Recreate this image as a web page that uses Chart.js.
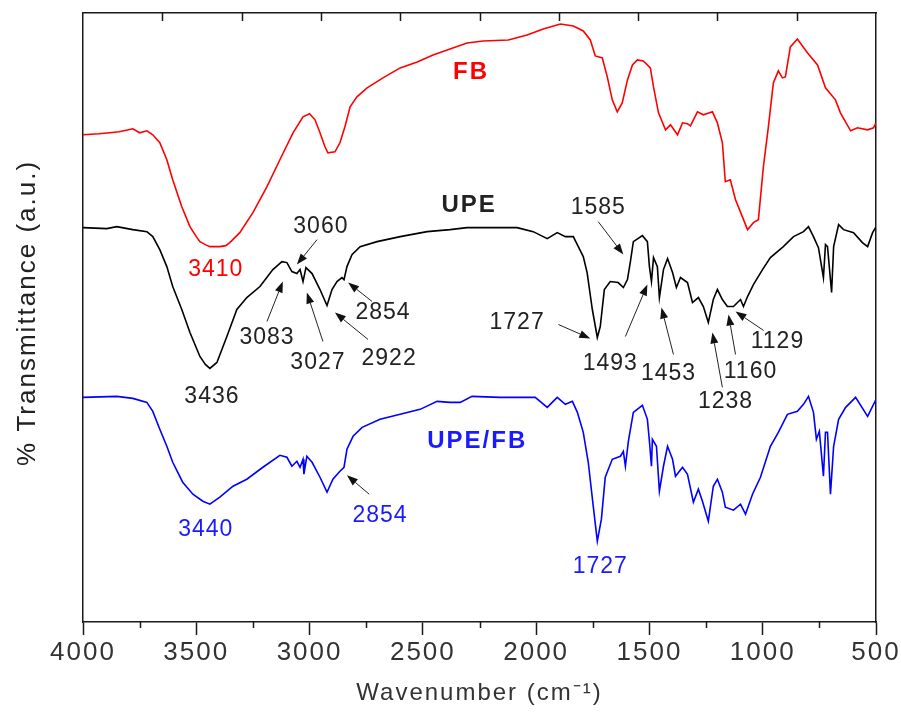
<!DOCTYPE html>
<html>
<head>
<meta charset="utf-8">
<script src="https://cdn.jsdelivr.net/npm/chart.js@4.4.1/dist/chart.umd.min.js"></script>
<style>
  html, body { margin: 0; padding: 0; background: #fff; }
  #wrap { width: 901px; height: 725px; }
</style>
</head>
<body>
<div id="wrap"><canvas id="c" width="901" height="725"></canvas></div>
<script>
// ---------------- data (wavenumber in cm-1, transmittance in a.u.) ----------------
const fbWn = [4000,3930,3882,3840,3780,3750,3718,3692,3661,3630,3604,3564,3528,3500,3484,3460,3440,3396,3370,3352,3308,3250,3188,3131,3073,3029,3000,2976,2954,2932,2919,2888,2866,2844,2821,2791,2746,2676,2600,2525,2455,2380,2305,2234,2123,2040,1969,1893,1836,1792,1761,1739,1708,1686,1664,1642,1620,1597,1575,1553,1527,1496,1482,1460,1429,1407,1376,1354,1332,1319,1288,1262,1222,1200,1178,1165,1143,1120,1090,1067,1041,1019,997,975,953,931,913,900,878,847,802,758,723,679,657,612,582,537,511,500];
const fbT  = [488,489,490,491,494,490,492,488,480,463,443,416,396,386,381,378,376,376,377,380,390,410,436,463,490,506,509,503,490,476,470,471,480,496,516,526,535,545,555,561,568,574,580,582,583,588,594,599,597,592,583,567,565,546,523,511,520,543,558,563,562,555,536,510,493,498,488,500,499,497,511,508,511,500,480,441,443,423,406,393,400,403,456,496,540,552,545,546,576,584,570,558,535,523,510,492,495,493,495,500];

const upeWn = [4000,3895,3851,3780,3718,3692,3661,3630,3604,3564,3528,3484,3460,3440,3409,3365,3321,3277,3219,3162,3122,3100,3078,3056,3042,3029,3016,2989,2954,2923,2901,2879,2857,2848,2835,2813,2777,2702,2600,2481,2380,2305,2084,2013,1951,1907,1871,1836,1814,1792,1775,1752,1730,1717,1699,1673,1638,1615,1597,1584,1571,1531,1509,1500,1491,1482,1465,1456,1438,1420,1398,1381,1363,1332,1310,1284,1262,1240,1218,1200,1178,1156,1129,1098,1085,1067,1041,1001,966,909,864,820,798,776,754,732,723,714,696,687,665,643,599,560,537,515,502];
const upeT  = [395,394,396,393,391,386,373,356,336,313,290,266,258,254,260,286,313,325,336,353,361,360,351,349,353,341,355,349,333,317,333,341,345,343,356,368,376,381,386,391,393,395,395,391,384,390,386,386,376,366,350,313,285,296,333,341,340,335,343,361,381,387,381,356,341,365,356,325,353,364,350,335,345,340,320,325,316,300,323,333,323,316,316,323,316,326,338,353,365,376,386,391,396,386,375,345,378,376,330,376,398,393,390,380,376,390,395];

const blendWn = [4000,3851,3780,3718,3692,3661,3630,3604,3560,3515,3471,3440,3396,3338,3277,3206,3131,3100,3078,3056,3042,3029,3025,3012,2989,2954,2923,2897,2866,2848,2835,2808,2768,2689,2600,2512,2437,2380,2335,2283,2159,2004,1951,1907,1871,1840,1818,1792,1770,1748,1730,1712,1695,1664,1628,1615,1606,1593,1571,1531,1509,1500,1491,1487,1469,1456,1438,1420,1398,1385,1354,1332,1306,1284,1266,1240,1218,1200,1178,1165,1129,1098,1076,1045,1010,966,931,891,847,820,798,776,763,750,732,723,714,701,687,665,634,590,537,502];
const blendT  = [225,226,224,220,211,193,176,160,140,128,121,118,125,136,143,155,167,165,156,161,155,163,148,166,160,145,130,143,151,155,173,186,195,203,208,213,221,220,220,226,225,225,215,225,218,221,210,190,160,116,81,103,145,163,166,171,156,181,210,217,203,181,156,183,176,131,156,176,163,146,155,148,120,133,121,101,136,143,130,115,112,118,108,128,145,176,190,208,211,218,226,210,183,191,146,190,190,128,176,203,215,225,206,222];

const seriesNames = ['FB', 'UPE', 'UPE/FB'];

// x-axis tick values (cm-1)
const xMajorTicks = [4000, 3500, 3000, 2500, 2000, 1500, 1000, 500];
const xMinorTicks = [3750, 3250, 2750, 2250, 1750, 1250, 750];
const topTicks = [1, 2, 3, 4, 5, 6, 7, 8, 9];

// peak annotations: text, series, label position (cm-1, a.u.)
const peakText   = ['3410','3436','3060','3083','3027','2922','2854','1585','1727','1493','1453','1238','1160','1129','3440','2854','1727'];
const peakSeries = ['FB','UPE','UPE','UPE','UPE','UPE','UPE','UPE','UPE','UPE','UPE','UPE','UPE','UPE','UPE/FB','UPE/FB','UPE/FB'];
const peakLabelWn = [3414,3431,2950,3188,2963,2649,2676,1726,2084,1673,1416,1164,1054,935,3458,2689,1717];
const peakLabelT  = [353,226,396,285,260,264,310,415,300,259,249,221,251,281,92,107,55];

// arrows: tail (cm-1, a.u.) -> head (cm-1, a.u.)
const arrowTailWn = [2967,3188,2941,2742,2724,1726,1902,1606,1394,1178,1120,996,2737];
const arrowTailT  = [383,301,281,283,321,401,298,286,268,235,268,292,128];
const arrowHeadWn = [3056,3118,3012,2888,2830,1615,1761,1509,1447,1222,1151,1120,2835];
const arrowHeadT  = [358,341,330,310,340,368,284,338,315,290,308,311,147];

// series name labels (cm-1, a.u.)
const nameWn = [2287, 2296, 2260];
const nameT  = [551, 417, 181];

// ---------------- styling ----------------
const seriesColor = { 'FB': '#ff0000', 'UPE': '#000000', 'UPE/FB': '#0000ff' };
const textColor = { 'FB': '#ff0000', 'UPE': '#222222', 'UPE/FB': '#1a1aff' };
const axisColor = '#1a1a1a';
const FONT = '"Liberation Sans", Arial, Helvetica, sans-serif';

function pts(wn, t) { return wn.map((w, i) => ({ x: w, y: t[i] })); }

const decor = {
  id: 'decor',
  beforeDraw(chart) { chart.ctx.letterSpacing = '2px'; },
  afterDraw(chart) {
    const ctx = chart.ctx;
    const xs = chart.scales.x, ys = chart.scales.y, xt = chart.scales.xTop;
    const a = chart.chartArea;
    ctx.save();
    // minor bottom ticks (outward) and top ticks (inward)
    ctx.strokeStyle = axisColor;
    ctx.lineWidth = 1.5;
    ctx.beginPath();
    xMinorTicks.forEach(v => {
      const px = Math.round(xs.getPixelForValue(v)) + 0.5;
      ctx.moveTo(px, a.bottom); ctx.lineTo(px, a.bottom + 6);
    });
    topTicks.forEach(v => {
      const px = Math.round(xt.getPixelForValue(v)) + 0.5;
      ctx.moveTo(px, a.top); ctx.lineTo(px, a.top + 8);
    });
    ctx.stroke();

    // arrows
    ctx.strokeStyle = '#222';
    ctx.fillStyle = '#111';
    ctx.lineWidth = 1;
    for (let i = 0; i < arrowTailWn.length; i++) {
      const x1 = xs.getPixelForValue(arrowTailWn[i]), y1 = ys.getPixelForValue(arrowTailT[i]);
      const x2 = xs.getPixelForValue(arrowHeadWn[i]), y2 = ys.getPixelForValue(arrowHeadT[i]);
      const ang = Math.atan2(y2 - y1, x2 - x1);
      const L = 11, W = 4;
      const bx = x2 - L * Math.cos(ang), by = y2 - L * Math.sin(ang);
      ctx.beginPath();
      ctx.moveTo(x1, y1); ctx.lineTo(bx, by);
      ctx.stroke();
      ctx.beginPath();
      ctx.moveTo(x2, y2);
      ctx.lineTo(bx + W * Math.sin(ang), by - W * Math.cos(ang));
      ctx.lineTo(bx - W * Math.sin(ang), by + W * Math.cos(ang));
      ctx.closePath();
      ctx.fill();
    }

    // peak labels
    ctx.textAlign = 'center';
    ctx.textBaseline = 'middle';
    ctx.letterSpacing = '1px';
    ctx.font = '23px ' + FONT;
    for (let i = 0; i < peakText.length; i++) {
      ctx.fillStyle = textColor[peakSeries[i]];
      ctx.fillText(peakText[i], xs.getPixelForValue(peakLabelWn[i]), ys.getPixelForValue(peakLabelT[i]));
    }
    // series names
    ctx.letterSpacing = '2px';
    ctx.font = 'bold 24px ' + FONT;
    for (let i = 0; i < seriesNames.length; i++) {
      ctx.fillStyle = textColor[seriesNames[i]];
      ctx.fillText(seriesNames[i], xs.getPixelForValue(nameWn[i]), ys.getPixelForValue(nameT[i]));
    }
    ctx.restore();
  }
};

new Chart(document.getElementById('c'), {
  type: 'line',
  data: {
    datasets: [
      { label: 'FB', data: pts(fbWn, fbT) },
      { label: 'UPE', data: pts(upeWn, upeT) },
      { label: 'UPE/FB', data: pts(blendWn, blendT) }
    ].map(d => Object.assign(d, {
      borderColor: seriesColor[d.label],
      backgroundColor: seriesColor[d.label],
      borderWidth: 1.6,
      pointRadius: 0,
      tension: 0,
      fill: false,
      xAxisID: 'x',
      yAxisID: 'y'
    }))
  },
  options: {
    responsive: false,
    animation: false,
    events: [],
    layout: { padding: { left: 0, right: 25, top: 13, bottom: 0 } },
    plugins: { legend: { display: false }, tooltip: { enabled: false } },
    scales: {
      x: {
        type: 'linear',
        position: 'bottom',
        reverse: true,
        min: 500, max: 4000,
        afterBuildTicks: (s) => { s.ticks = xMajorTicks.map(v => ({ value: v })); },
        ticks: {
          color: '#333',
          font: { family: FONT, size: 26 },
          padding: 2,
          maxRotation: 0,
          autoSkip: false,
          callback: (v) => String(v)
        },
        grid: { display: true, drawOnChartArea: false, drawTicks: true, tickLength: 13, tickWidth: 1.5, tickColor: axisColor },
        border: { display: true, color: axisColor, width: 1.5 },
        title: {
          display: true,
          text: 'Wavenumber (cm\u207B\u00B9)',
          color: '#333',
          font: { family: FONT, size: 24 },
          padding: { top: 8.4, bottom: 17.6 }
        }
      },
      xTop: {
        type: 'linear',
        position: 'top',
        min: 0, max: 10,
        ticks: { display: false },
        grid: { display: true, drawOnChartArea: false, drawTicks: false },
        border: { display: true, color: axisColor, width: 1.5 }
      },
      y: {
        type: 'linear',
        position: 'left',
        min: 0, max: 610,
        ticks: { display: false },
        grid: { display: true, drawOnChartArea: false, drawTicks: false },
        border: { display: true, color: axisColor, width: 1.5 },
        title: {
          display: true,
          text: ' % Transmittance (a.u.)',
          color: '#222',
          font: { family: FONT, size: 26 },
          padding: { top: 12.4, bottom: 39.4 }
        }
      },
      yRight: {
        type: 'linear',
        position: 'right',
        min: 0, max: 610,
        ticks: { display: false },
        grid: { display: true, drawOnChartArea: false, drawTicks: false },
        border: { display: true, color: axisColor, width: 1.5 }
      }
    }
  },
  plugins: [decor]
});
</script>
</body>
</html>
